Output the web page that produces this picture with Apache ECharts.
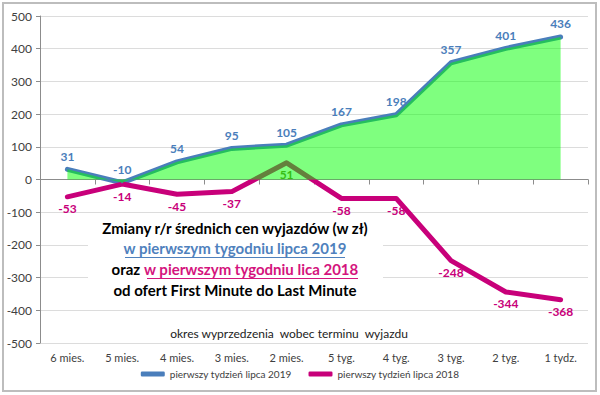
<!DOCTYPE html>
<html>
<head>
<meta charset="utf-8">
<script src="https://cdn.jsdelivr.net/npm/echarts@6/dist/echarts.min.js"></script>
<style>
html,body{margin:0;padding:0;background:#fff;}
#chart{width:600px;height:395px;}
</style>
</head>
<body>
<div id="chart"></div>
<script>
var categories = ['6 mies.', '5 mies.', '4 mies.', '3 mies.', '2 mies.', '5 tyg.', '4 tyg.', '3 tyg.', '2 tyg.', '1 tydz.'];
var values2019 = [31, -10, 54, 95, 105, 167, 198, 357, 401, 436];
var values2018 = [-53, -14, -45, -37, 51, -58, -58, -248, -344, -368];
var name2019 = 'pierwszy tydzień lipca 2019';
var name2018 = 'pierwszy tydzień lipca 2018';
var yTicks = { min: -500, max: 500, interval: 100 };

var FONT = 'Lato, "Open Sans", sans-serif';
var BLUE = '#4a7ebb';
var MAGENTA = '#c8007a';

var data2018 = values2018.map(function (v) {
  if (v === 51) {
    return { value: v, label: { color: '#6e7a2c' } };
  }
  return v;
});

var chart = echarts.init(document.getElementById('chart'), null, { renderer: 'svg' });
chart.setOption({
  animation: false,
  backgroundColor: '#fff',
  textStyle: { fontFamily: FONT },
  grid: { left: 40, right: 12, top: 16, bottom: 52, containLabel: false },
  legend: {
    bottom: 11,
    left: 'center',
    itemWidth: 24,
    itemHeight: 5,
    itemGap: 17,
    icon: 'roundRect',
    textStyle: { fontSize: 10, color: '#404040', fontFamily: FONT },
    data: [name2019, name2018]
  },
  xAxis: [{
    type: 'category',
    data: categories,
    boundaryGap: true,
    position: 'bottom',
    axisLine: { show: false, onZero: false },
    axisTick: { show: false },
    axisLabel: { color: '#404040', fontSize: 11, margin: 9, fontFamily: FONT },
    splitLine: { show: false }
  }, {
    type: 'category',
    data: categories,
    boundaryGap: true,
    position: 'bottom',
    axisLine: { show: true, onZero: true, lineStyle: { color: '#8c8c8c', width: 1 } },
    axisTick: { show: true, length: 5, lineStyle: { color: '#8c8c8c' } },
    axisLabel: { show: false },
    splitLine: { show: false }
  }],
  yAxis: {
    type: 'value',
    min: yTicks.min,
    max: yTicks.max,
    interval: yTicks.interval,
    axisLine: { show: true, lineStyle: { color: '#8c8c8c' } },
    axisTick: { show: true, length: 4, lineStyle: { color: '#8c8c8c' } },
    axisLabel: { color: '#404040', fontSize: 12, margin: 8, fontFamily: FONT },
    splitLine: { show: true, lineStyle: { color: '#dcdcdc', width: 1 } }
  },
  series: [{
    name: name2019,
    type: 'line',
    data: values2019,
    color: BLUE,
    symbol: 'circle',
    symbolSize: 2,
    showSymbol: true,
    lineStyle: { width: 5, color: BLUE, cap: 'round', join: 'round' },
    itemStyle: { color: BLUE },
    z: 3,
    label: { show: true, position: 'top', distance: 6, color: BLUE, fontSize: 12, fontWeight: 'bold', fontFamily: FONT }
  }, {
    name: name2018,
    type: 'line',
    data: data2018,
    color: MAGENTA,
    symbol: 'circle',
    symbolSize: 2,
    showSymbol: true,
    lineStyle: { width: 5, color: MAGENTA, cap: 'round', join: 'round' },
    itemStyle: { color: MAGENTA },
    z: 3,
    label: { show: true, position: 'bottom', distance: 5, color: MAGENTA, fontSize: 12, fontWeight: 'bold', fontFamily: FONT }
  }, {
    name: 'obszar 2019',
    type: 'line',
    data: values2019,
    symbol: 'none',
    lineStyle: { width: 0, opacity: 0 },
    areaStyle: { color: 'rgba(0,255,0,0.5)', opacity: 1, origin: 'auto' },
    z: 4,
    silent: true
  }],
  graphic: [{
    type: 'rect',
    shape: { x: 3, y: 3, width: 593, height: 388 },
    style: { fill: 'none', stroke: '#bdbdbd', lineWidth: 2 },
    z: 0
  }, {
    type: 'rect',
    shape: { x: 88, y: 217, width: 295, height: 88 },
    style: { fill: '#ffffff', stroke: 'none' },
    z: 1
  }, {
    type: 'text',
    x: 235, y: 227.5,
    style: {
      text: 'Zmiany r/r średnich cen wyjazdów (w zł)',
      fill: '#000', font: 'bold 15px ' + FONT, textAlign: 'center', textVerticalAlign: 'middle'
    },
    z: 2
  }, {
    type: 'text',
    x: 235, y: 248,
    style: {
      text: 'w pierwszym tygodniu lipca 2019',
      fill: '#4f81bd', font: 'bold 15px ' + FONT, textAlign: 'center', textVerticalAlign: 'middle'
    },
    z: 2
  }, {
    type: 'line',
    shape: { x1: 125, y1: 257.5, x2: 345, y2: 257.5 },
    style: { stroke: '#4f81bd', lineWidth: 1.2 },
    z: 2
  }, {
    type: 'text',
    x: 235, y: 269,
    style: {
      text: '{a|oraz }{b|w pierwszym tygodniu lica 2018}',
      font: 'bold 15px ' + FONT, textAlign: 'center', textVerticalAlign: 'middle',
      rich: {
        a: { fill: '#000', font: 'bold 15px ' + FONT },
        b: { fill: '#d4147d', font: 'bold 15px ' + FONT }
      }
    },
    z: 2
  }, {
    type: 'line',
    shape: { x1: 147, y1: 278.5, x2: 358, y2: 278.5 },
    style: { stroke: '#d4147d', lineWidth: 1.2 },
    z: 2
  }, {
    type: 'text',
    x: 235, y: 290,
    style: {
      text: 'od ofert First Minute do Last Minute',
      fill: '#000', font: 'bold 15px ' + FONT, textAlign: 'center', textVerticalAlign: 'middle'
    },
    z: 2
  }, {
    type: 'text',
    x: 289, y: 333,
    style: {
      text: 'okres wyprzedzenia  wobec terminu  wyjazdu',
      fill: '#222', font: '12px ' + FONT, textAlign: 'center', textVerticalAlign: 'middle'
    },
    z: 2
  }]
});
</script>
</body>
</html>
